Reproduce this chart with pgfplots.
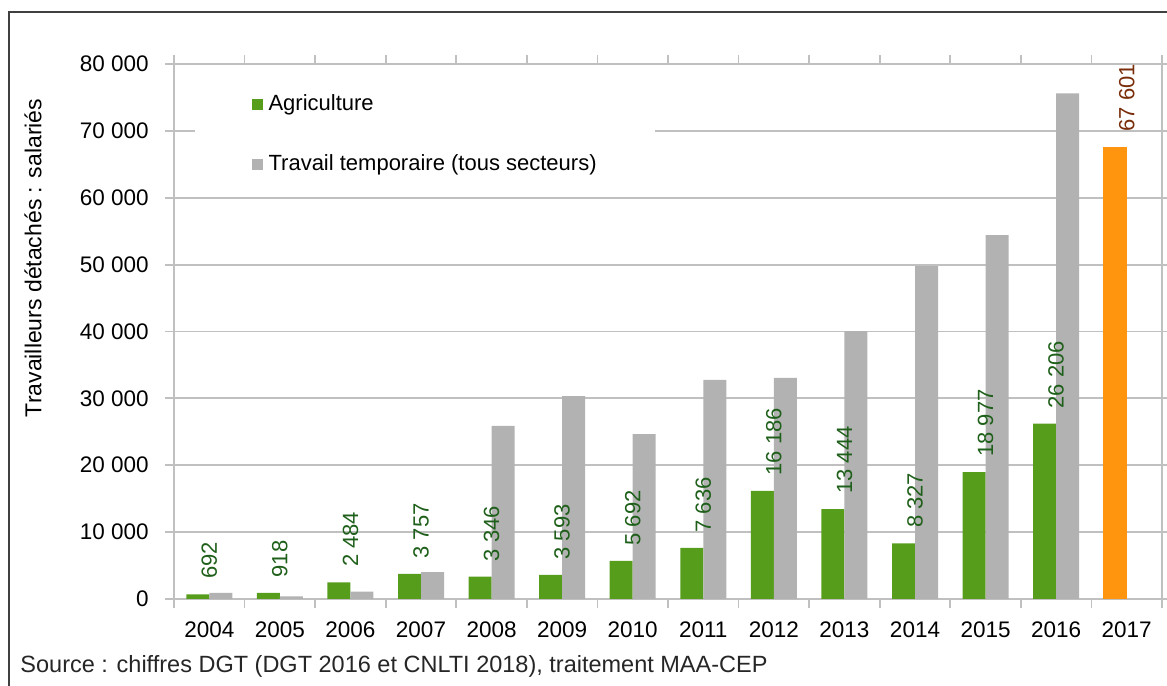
\documentclass[border=0pt]{standalone}
\usepackage{pgfplots}
\pgfplotsset{compat=1.18}
\usepackage{fontspec}
\setmainfont{Liberation Sans}
\definecolor{agri}{RGB}{87,157,28}
\definecolor{temp}{RGB}{178,178,178}
\definecolor{orng}{RGB}{255,149,14}
\definecolor{lblg}{RGB}{30,95,25}
\definecolor{lblb}{RGB}{122,45,10}
\definecolor{gridc}{RGB}{192,192,192}
\definecolor{frame}{RGB}{64,64,64}
\definecolor{srcc}{RGB}{38,38,38}
\begin{document}
\begin{tikzpicture}[x=0.4pt,y=0.4pt]
\useasboundingbox (0,0) rectangle (1167,686);
\draw[line width=0.8pt, frame] (8.5,-5) -- (8.5,674) -- (1175,674);
\begin{axis}[
  at={(69.6pt,34.8pt)}, anchor=south west,
  scale only axis, width=395.2pt, height=214pt,
  xmin=-0.5, xmax=13.5, ymin=0, ymax=80000,
  scaled y ticks=false,
  axis line style={gridc, line width=0.7pt},
  ymajorgrids, grid style={gridc, line width=0.7pt},
  ytick={0,10000,20000,30000,40000,50000,60000,70000,80000},
  yticklabels={0,10~000,20~000,30~000,40~000,50~000,60~000,70~000,80~000},
  xtick={0,...,13},
  xticklabels={2004,2005,2006,2007,2008,2009,2010,2011,2012,2013,2014,2015,2016,2017},
  x tick style={draw=none},
  y tick style={gridc, line width=0.7pt},
  major tick length=3.6pt,
  tick align=outside,
  extra x ticks={-0.5,0.5,1.5,2.5,3.5,4.5,5.5,6.5,7.5,8.5,9.5,10.5,11.5,12.5,13.5},
  extra x tick labels={},
  extra x tick style={x tick style={draw=gridc, line width=0.7pt}, xmajorgrids=false},
  ticklabel style={font=\fontsize{9}{11}\selectfont, black},
  yticklabel style={xshift=-3pt},
  xticklabel style={yshift=-1.8pt},
  /pgf/number format/fixed,
  /pgf/number format/precision=0,
  /pgf/number format/1000 sep={\ },
  /pgf/number format/assume math mode=true,
  legend style={at={(rel axis cs:0.078,0.951)}, anchor=north west, draw=none, fill=none,
    font=\fontsize{8.8}{11}\selectfont, row sep=13pt, inner sep=0pt, nodes={inner sep=1.5pt}},
  legend cell align=left,
  legend image code/.code={\fill[#1] (0pt,-2.2pt) rectangle (4.4pt,2.2pt); \path (5.3pt,0pt);},
  clip=false,
]
\fill[white] (axis cs:-0.2,62000) rectangle (axis cs:6.31,78000);
\addplot[ybar, bar width=0.326, bar shift=-0.163, fill=agri, draw=none,
  nodes near coords, point meta=y,
  every node near coord/.append style={rotate=90, anchor=west, inner xsep=6pt, inner ysep=0pt, lblg, font=\fontsize{8.8}{10}\selectfont}]
  coordinates {(0,692) (1,918) (2,2484) (3,3757) (4,3346) (5,3593) (6,5692) (7,7636) (8,16186) (9,13444) (10,8327) (11,18977) (12,26206)};
\addlegendentry{Agriculture}
\addplot[ybar, bar width=0.326, bar shift=0.163, fill=temp, draw=none]
  coordinates {(0,900) (1,400) (2,1100) (3,4000) (4,25900) (5,30350) (6,24670) (7,32750) (8,33050) (9,40070) (10,49790) (11,54430) (12,75620)};
\addlegendentry{Travail temporaire (tous secteurs)}
\addplot[ybar, bar width=0.34, bar shift=-0.163, fill=orng, draw=none, forget plot,
  nodes near coords, point meta=y,
  every node near coord/.append style={rotate=90, anchor=west, inner xsep=6pt, inner ysep=0pt, lblb, font=\fontsize{8.8}{10}\selectfont}]
  coordinates {(13,67601)};
\end{axis}
\node[rotate=90, font=\fontsize{9.2}{11}\selectfont, black] at (33,428) {Travailleurs détachés : salariés};
\node[anchor=west, font=\fontsize{9.4}{11}\selectfont, srcc, inner sep=0pt] at (20,20) {Source : chiffres DGT (DGT 2016 et CNLTI 2018), traitement MAA-CEP};
\end{tikzpicture}
\end{document}
